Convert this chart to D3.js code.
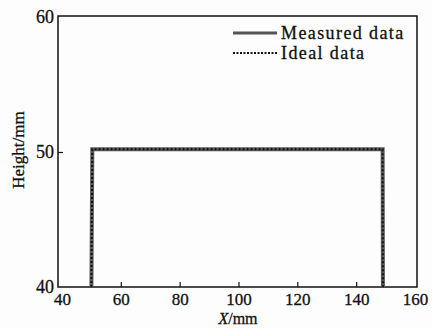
<!DOCTYPE html>
<html lang="en">
<head>
  <meta charset="UTF-8">
  <title>Height profile</title>
  <script src="https://d3js.org/d3.v7.min.js"></script>
  <style>
    body { margin: 0; background: #fdfdfd; }
    svg { display: block; font-family: "Liberation Serif", "DejaVu Serif", serif; }
    svg text { stroke: #111; stroke-width: 0.3px; }
  </style>
</head>
<body>
  <svg width="432" height="328"></svg>

  <script>
    // series
    const measuredX = [50, 50.3, 149, 149.1];
    const measuredY = [40, 50.2, 50.2, 40];
    const idealX = [50, 50.3, 149, 149.1];
    const idealY = [40, 50.2, 50.2, 40];

    const xTicks = [40, 60, 80, 100, 120, 140, 160];
    const yTicks = [40, 50, 60];
    const legendLabels = ['Measured data', 'Ideal data'];

    const svg = d3.select('svg');
    // frame of the plot
    const plotL = 58, plotR = 417, plotT = 16, plotB = 287;

    const x = d3.scaleLinear().domain([40, 160]).range([62, 415]);
    const y = d3.scaleLinear().domain([40, 60]).range([287, 17]);

    const line = d3.line().x(d => x(d[0])).y(d => y(d[1]));

    svg.append('rect')
      .attr('x', plotL).attr('y', plotT)
      .attr('width', plotR - plotL).attr('height', plotB - plotT)
      .attr('fill', '#fdfdfd')
      .attr('stroke', '#111').attr('stroke-width', 1.5);

    // axes, ticks pointing inward
    const xAxis = svg.append('g')
      .attr('transform', `translate(0,${plotB})`)
      .call(d3.axisBottom(x).tickValues(xTicks).tickSizeInner(-5).tickSizeOuter(0).tickPadding(6));
    const yAxis = svg.append('g')
      .attr('transform', `translate(${plotL},0)`)
      .call(d3.axisLeft(y).tickValues(yTicks).tickSizeInner(-5).tickSizeOuter(0).tickPadding(4));

    [xAxis, yAxis].forEach(g => {
      g.select('.domain').remove();
      g.selectAll('.tick line').attr('stroke', '#111').attr('stroke-width', 1.2);
      g.selectAll('.tick text')
        .attr('fill', '#111')
        .style('font-family', '"Liberation Serif", serif')
        .style('font-size', '18px');
    });
    xAxis.selectAll('.tick text').style('font-size', '17px');
    xAxis.selectAll('.tick line').filter(d => d === 40 || d === 160).remove();
    yAxis.selectAll('.tick line').filter(d => d === 40 || d === 60).remove();

    const measured = measuredX.map((v, i) => [v, measuredY[i]]);
    const ideal = idealX.map((v, i) => [v, idealY[i]]);

    svg.append('path').datum(measured)
      .attr('d', line)
      .attr('fill', 'none')
      .attr('stroke', '#5a5a5a')
      .attr('stroke-width', 4);

    svg.append('path').datum(ideal)
      .attr('d', line)
      .attr('fill', 'none')
      .attr('stroke', '#111')
      .attr('stroke-width', 2)
      .attr('stroke-dasharray', '2,2');

    // legend
    const legend = svg.append('g');
    legendLabels.forEach((label, i) => {
      const ly = 33 + i * 20;
      const item = legend.append('line')
        .attr('x1', 233).attr('x2', 277)
        .attr('y1', ly).attr('y2', ly);
      if (i === 0) {
        item.attr('stroke', '#555').attr('stroke-width', 3);
      } else {
        item.attr('stroke', '#111').attr('stroke-width', 2).attr('stroke-dasharray', '2,1.5');
      }
      legend.append('text')
        .attr('x', 281).attr('y', ly + 6)
        .attr('fill', '#111')
        .style('font-size', '18px')
        .style('letter-spacing', '1.4px')
        .text(label);
    });

    // axis titles
    const xt = svg.append('text')
      .attr('x', 238).attr('y', 324)
      .attr('text-anchor', 'middle')
      .attr('fill', '#111')
      .style('font-size', '16px');
    xt.append('tspan').style('font-style', 'italic').text('X');
    xt.append('tspan').text('/mm');

    svg.append('text')
      .attr('transform', 'translate(24,150) rotate(-90)')
      .attr('text-anchor', 'middle')
      .attr('fill', '#111')
      .style('font-size', '17px')
      .text('Height/mm');
  </script>
</body>
</html>
